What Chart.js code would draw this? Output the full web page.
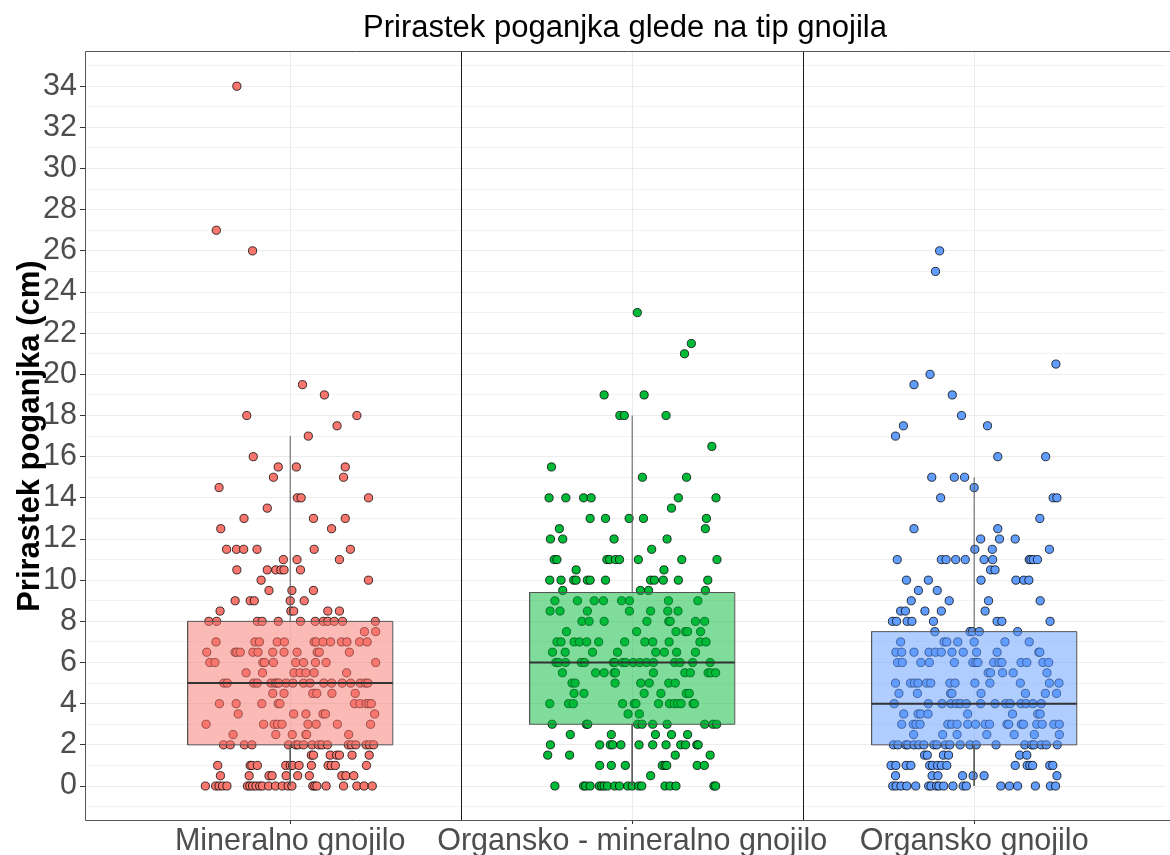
<!DOCTYPE html>
<html><head><meta charset="utf-8">
<script src="https://cdn.jsdelivr.net/npm/chart.js@4.4.1/dist/chart.umd.min.js"></script>
<style>html,body{margin:0;padding:0;background:#fff;overflow:hidden}canvas{display:block}</style>
</head><body><canvas id="c" width="1170" height="855"></canvas>
<script>
const categories = ['Mineralno gnojilo', 'Organsko - mineralno gnojilo', 'Organsko gnojilo'];
const yTickLabels = [0,2,4,6,8,10,12,14,16,18,20,22,24,26,28,30,32,34];
const yGridValues = [-1,0,1,2,3,4,5,6,7,8,9,10,11,12,13,14,15,16,17,18,19,20,21,22,23,24,25,26,27,28,29,30,31,32,33,34,35];
const separators = [0.5, 1.5];

const boxQ1 = [2, 3, 2];
const boxMedian = [5, 6, 4];
const boxQ3 = [8, 9.4, 7.5];
const whiskerLow = [0, 0, 0];
const whiskerHigh = [17, 18, 15];

const mineralValues = [34,27,26,19.5,19,18,17.5,17,16,15.5,15,14.5,14,13.5,13,12.5,11.5,11,10.5,10,9.5,9,8.5,8,7.5,7,6.5,6,5.5,5,4.5,4,3.5,3,2.5,2,1.5,1,0.5,0];
const mineralJitter = [
 [-0.156],[-0.216],[-0.110],[0.036],[0.100],[-0.127,0.195],[0.137],[0.053],[-0.108],
 [-0.035,0.018,0.161],[-0.049,0.156],[-0.208],[0.021,0.032,0.229],[-0.067],[-0.135,0.068,0.161],
 [-0.203,0.121],[-0.186,-0.157,-0.136,-0.097,0.070,0.176],[-0.020,0.020,0.144],
 [-0.156,-0.067,-0.042,-0.027,-0.018,0.030],[-0.085,0.229],[-0.062,0.005,0.068],
 [-0.161,-0.117,-0.105,0,0.041],[-0.205,0.002,0.010,0.110,0.144],
 [-0.238,-0.215,-0.096,-0.082,-0.035,0.030,0.073,0.097,0.110,0.129,0.153,0.249],
 [0.217,0.250],
 [-0.217,-0.103,-0.090,-0.038,-0.017,0.070,0.076,0.096,0.118,0.150,0.166,0.203,0.225],
 [-0.244,-0.161,-0.156,-0.146,-0.109,-0.094,-0.051,-0.018,0.020,0.079,0.085,0.173],
 [-0.235,-0.220,-0.080,-0.075,-0.049,0.016,0.039,0.074,0.105,0.250],
 [-0.129,-0.081,0.011,0.029,0.046,0.070,0.165],
 [-0.194,-0.184,-0.107,-0.096,-0.056,-0.044,-0.039,-0.033,-0.012,0.008,0.039,0.058,0.098,0.121,0.152,0.177,0.205,0.220,0.227],
 [-0.051,-0.018,0.066,0.078,0.122,0.190],
 [-0.207,-0.158,-0.083,-0.035,-0.030,0.188,0.204,0.222,0.230,0.237],
 [-0.152,0.010,0.046,0.096,0.103,0.247],
 [-0.246,-0.078,-0.047,-0.037,-0.024,0.052,0.076,0.138,0.235],
 [-0.167,-0.042,0.006,0.046,0.048,0.171],
 [-0.195,-0.175,-0.134,-0.112,-0.005,0.016,0.023,0.039,0.064,0.083,0.093,0.109,0.170,0.179,0.192,0.222,0.232,0.244],
 [0.062,0.068,0.117,0.136,0.144,0.181,0.231],
 [-0.212,-0.117,-0.112,-0.096,-0.013,0,0.007,0.026,0.062,0.111,0.120,0.132,0.223],
 [-0.204,-0.120,-0.062,-0.053,-0.012,0.022,0.056,0.151,0.163,0.186],
 [-0.248,-0.218,-0.208,-0.198,-0.185,-0.125,-0.118,-0.110,-0.100,-0.089,-0.081,-0.063,-0.043,-0.023,-0.006,0.005,0.066,0.072,0.078,0.105,0.156,0.195,0.216,0.240]
];

const orgMinValues = [23,21.5,21,19,18,16.5,15.5,15,14,13.5,13,12.5,12,11.5,11,10.5,10,9.5,9,8.5,8,7.5,7,6.5,6,5.5,5,4.5,4,3.5,3,2.5,2,1.5,1,0.5,0];
const orgMinJitter = [
 [0.015],[0.173],[0.153],[-0.082,0.035],[-0.036,-0.023,0.099],[0.233],[-0.236],[0.030,0.159],
 [-0.243,-0.194,-0.142,-0.120,0.135,0.245],[0.115],[-0.123,-0.078,-0.009,0.033,0.217],
 [-0.213,0.214],[-0.239,-0.203,-0.053,0.102],[0.057],
 [-0.228,-0.220,-0.074,-0.066,-0.049,-0.037,0.018,0.145,0.248],[-0.164,0.093],
 [-0.241,-0.208,-0.171,-0.164,-0.131,-0.123,-0.078,0.054,0.065,0.091,0.135,0.221],
 [-0.203,0.024,0.048,0.214],
 [-0.226,-0.160,-0.111,-0.084,-0.031,-0.008,0.106,0.192],
 [-0.240,-0.211,-0.131,-0.008,0.054,0.104,0.134],
 [-0.147,-0.126,-0.082,0.043,0.107,0.111,0.185,0.212],
 [-0.192,0.013,0.128,0.155,0.162,0.200],
 [-0.220,-0.208,-0.170,-0.154,-0.133,-0.098,-0.022,0.037,0.060,0.108,0.198,0.216],
 [-0.233,-0.196,-0.116,-0.043,0.069,0.094,0.130,0.185],
 [-0.223,-0.215,-0.195,-0.149,-0.139,-0.055,-0.051,-0.028,-0.019,0.003,0.022,0.042,0.062,0.124,0.140,0.177,0.228],
 [-0.204,-0.107,-0.082,-0.053,-0.049,0.062,0.154,0.170,0.222,0.230,0.244],
 [-0.176,-0.167,-0.050,0.025,0.050,0.107,0.126],
 [-0.170,-0.141,0.035,0.084,0.158,0.167],
 [-0.241,-0.186,-0.172,-0.028,0.006,0.011,0.077,0.109,0.123,0.133,0.143,0.178,0.182],
 [-0.012,0.021],
 [-0.234,-0.134,-0.130,0.016,0.029,0.060,0.102,0.212,0.236,0.247],
 [-0.181,-0.061,0.068,0.115,0.162],
 [-0.239,-0.095,-0.064,-0.057,-0.033,0.020,0.060,0.099,0.142,0.156,0.189,0.193],
 [-0.247,-0.183,0.126,0.228],
 [-0.095,-0.061,-0.020,0.088,0.096,0.101,0.190,0.211],
 [0.054],
 [-0.226,-0.142,-0.136,-0.123,-0.096,-0.089,-0.082,-0.072,-0.051,-0.037,-0.013,0,0.019,0.028,0.096,0.111,0.128,0.239,0.244]
];

const organicValues = [26,25,20.5,20,19.5,19,18,17.5,17,16,15,14.5,14,13,12.5,12,11.5,11,10.5,10,9.5,9,8.5,8,7.5,7,6.5,6,5.5,5,4.5,4,3.5,3,2.5,2,1.5,1,0.5,0];
const organicJitter = [
 [-0.101],[-0.113],[0.239],[-0.129],[-0.176],[-0.064],[-0.037],[-0.207,0.039],[-0.230],
 [0.069,0.209],[-0.124,-0.058,-0.028],[0],[-0.098,0.231,0.242],[0.192],[-0.176,0.069],
 [0.019,0.074,0.120],[0.002,0.053,0.220],
 [-0.225,-0.096,-0.082,-0.054,-0.026,0.029,0.054,0.161,0.166,0.173,0.185],
 [0.048,0.061],[-0.198,-0.134,0.020,0.122,0.145,0.160],[-0.163,-0.108],
 [-0.184,-0.073,0.042,0.193],[-0.215,-0.201,-0.144,-0.096,0.032],
 [-0.239,-0.227,-0.196,-0.182,-0.119,0.067,0.081,0.222],
 [-0.115,-0.012,-0.005,0.015,0.127],
 [-0.215,-0.088,-0.080,-0.048,0,0.090,0.161],
 [-0.229,-0.212,-0.176,-0.132,-0.113,-0.096,-0.065,-0.032,0.007,0.067,0.189,0.192],
 [-0.224,-0.210,-0.156,-0.131,-0.058,-0.004,0.005,0.011,0.057,0.073,0.081,0.137,0.154,0.201,0.218],
 [0.041,0.048,0.083,0.114,0.213],
 [-0.230,-0.186,-0.175,-0.164,-0.139,-0.127,-0.071,-0.056,0.002,0.046,0.135,0.220,0.248],
 [-0.220,-0.166,-0.069,-0.065,0.020,0.150,0.208,0.241],
 [-0.234,-0.134,-0.094,-0.068,-0.052,-0.040,-0.023,0.019,0.061,0.092,0.105,0.137,0.152,0.172,0.196],
 [-0.206,-0.164,-0.156,-0.135,-0.019,0.112,0.186,0.193],
 [-0.212,-0.178,-0.170,-0.158,-0.077,-0.066,-0.050,-0.019,0.004,0.032,0.045,0.096,0.101,0.138,0.144,0.183,0.199,0.233,0.249],
 [-0.177,-0.092,-0.050,0.037,0.117,0.176,0.249],
 [-0.236,-0.223,-0.200,-0.194,-0.176,-0.162,-0.147,-0.118,-0.109,-0.084,-0.071,-0.041,-0.012,0.006,0.064,0.148,0.168,0.175,0.196,0.211,0.243],
 [-0.145,-0.137,-0.090,-0.075,0.133,0.154],
 [-0.243,-0.229,-0.199,-0.185,-0.130,-0.122,-0.107,-0.096,-0.080,0.120,0.155,0.163,0.171,0.221,0.230],
 [-0.230,-0.123,-0.106,-0.034,-0.003,0.029,0.242],
 [-0.238,-0.228,-0.214,-0.197,-0.171,-0.133,-0.126,-0.110,-0.103,-0.089,-0.062,-0.032,-0.023,0.078,0.103,0.127,0.179,0.223,0.238]
];

const FONT = "'Liberation Sans', Arial, sans-serif";
const pointColors = ['#F8766D', '#00BA38', '#619CFF'];
const boxColors = ['rgba(248,118,109,0.5)', 'rgba(0,186,56,0.5)', 'rgba(97,156,255,0.5)'];
const BOX_HALF = 0.3;

function toPoints(idx, values, jitter) {
  const out = [];
  values.forEach((v, i) => jitter[i].forEach(j => out.push({x: idx + j, y: v})));
  return out;
}

const groups = [[mineralValues, mineralJitter], [orgMinValues, orgMinJitter], [organicValues, organicJitter]];
const datasets = [];
groups.forEach(([vals, jit], i) => {
  datasets.push({
    type: 'scatter', data: toPoints(i, vals, jit), order: 10,
    backgroundColor: pointColors[i], borderColor: 'rgba(0,0,0,0.85)', borderWidth: 0.9,
    pointRadius: 4.1, pointHoverRadius: 4.1
  });
});
const lineBase = {type: 'line', pointRadius: 0, pointHoverRadius: 0, fill: false, tension: 0};
categories.forEach((c, i) => {
  datasets.push(Object.assign({}, lineBase, {
    data: [{x: i - BOX_HALF, y: boxQ3[i]}, {x: i + BOX_HALF, y: boxQ3[i]}],
    borderWidth: 0, borderColor: 'rgba(0,0,0,0)', backgroundColor: boxColors[i],
    fill: {value: boxQ1[i]}, order: 4
  }));
  datasets.push(Object.assign({}, lineBase, {
    data: [{x: i - BOX_HALF, y: boxQ1[i]}, {x: i + BOX_HALF, y: boxQ1[i]}, {x: i + BOX_HALF, y: boxQ3[i]},
           {x: i - BOX_HALF, y: boxQ3[i]}, {x: i - BOX_HALF, y: boxQ1[i]}],
    borderColor: '#555555', borderWidth: 1, order: 3
  }));
  datasets.push(Object.assign({}, lineBase, {
    data: [{x: i, y: boxQ3[i]}, {x: i, y: whiskerHigh[i]}], borderColor: '#5a5a5a', borderWidth: 1, order: 3
  }));
  datasets.push(Object.assign({}, lineBase, {
    data: [{x: i, y: boxQ1[i]}, {x: i, y: whiskerLow[i]}], borderColor: '#5a5a5a', borderWidth: 1, order: 3
  }));
  datasets.push(Object.assign({}, lineBase, {
    data: [{x: i - BOX_HALF, y: boxMedian[i]}, {x: i + BOX_HALF, y: boxMedian[i]}],
    borderColor: '#333333', borderWidth: 2, order: 2
  }));
});

const framePlugin = {
  id: 'frame',
  beforeDatasetsDraw(chart) {
    const {ctx, chartArea: a, scales: {x}} = chart;
    ctx.save();
    ctx.strokeStyle = '#1a1a1a'; ctx.lineWidth = 1;
    separators.forEach(v => {
      const px = Math.round(x.getPixelForValue(v)) + 0.5;
      ctx.beginPath(); ctx.moveTo(px, a.top); ctx.lineTo(px, a.bottom); ctx.stroke();
    });
    ctx.restore();
  },
  afterDatasetsDraw(chart) {
    const {ctx, chartArea: a} = chart;
    const l = Math.round(a.left) + 0.5, t = Math.round(a.top) + 0.5, b = Math.round(a.bottom) - 0.5;
    ctx.save();
    ctx.strokeStyle = '#555555'; ctx.lineWidth = 1;
    ctx.beginPath();
    ctx.moveTo(chart.width, t); ctx.lineTo(l, t); ctx.lineTo(l, b); ctx.lineTo(chart.width, b);
    ctx.stroke();
    ctx.restore();
  }
};

new Chart(document.getElementById('c'), {
  type: 'scatter',
  data: {datasets},
  plugins: [framePlugin],
  options: {
    responsive: false, maintainAspectRatio: false, animation: false, devicePixelRatio: 1,
    layout: {padding: {left: 0, right: 0, top: 0, bottom: 0}},
    plugins: {
      legend: {display: false}, tooltip: {enabled: false},
      title: {display: true, text: 'Prirastek poganjka glede na tip gnojila', fullSize: false,
        color: '#000', font: {family: FONT, size: 31, weight: 'normal'}, padding: {top: 10, bottom: 4}}
    },
    scales: {
      x: {
        type: 'linear', min: -0.6, max: 2.558,
        afterBuildTicks: s => { s.ticks = categories.map((c, i) => ({value: i})); },
        afterFit: s => { s.height = 34; },
        ticks: {callback: v => categories[v] !== undefined ? categories[v] : '', autoSkip: false, maxRotation: 0, minRotation: 0,
          font: {family: FONT, size: 30.5}, color: '#4D4D4D', padding: -1},
        grid: {color: '#EBEBEB', lineWidth: 1, tickColor: '#333333', tickLength: 3},
        border: {display: false}
      },
      y: {
        type: 'linear', min: -1.7, max: 35.7,
        afterBuildTicks: s => { s.ticks = yGridValues.map(v => ({value: v})); },
        afterFit: s => { s.width = 85; },
        ticks: {callback: v => yTickLabels.includes(v) ? String(v) : '', autoSkip: false,
          font: {family: FONT, size: 30.5}, color: '#4D4D4D', padding: 3},
        grid: {
          color: ctx => (ctx.tick && ctx.tick.value % 2 === 0) ? '#EBEBEB' : '#F2F2F2',
          tickColor: ctx => (ctx.tick && yTickLabels.includes(ctx.tick.value)) ? '#333333' : 'rgba(0,0,0,0)',
          tickLength: 5, lineWidth: 1
        },
        border: {display: false},
        title: {display: true, text: 'Prirastek poganjka (cm)', color: '#000',
          font: {family: FONT, size: 31, weight: 'bold'}, padding: {top: 12, bottom: 0}}
      }
    }
  }
});
</script>
</body></html>
